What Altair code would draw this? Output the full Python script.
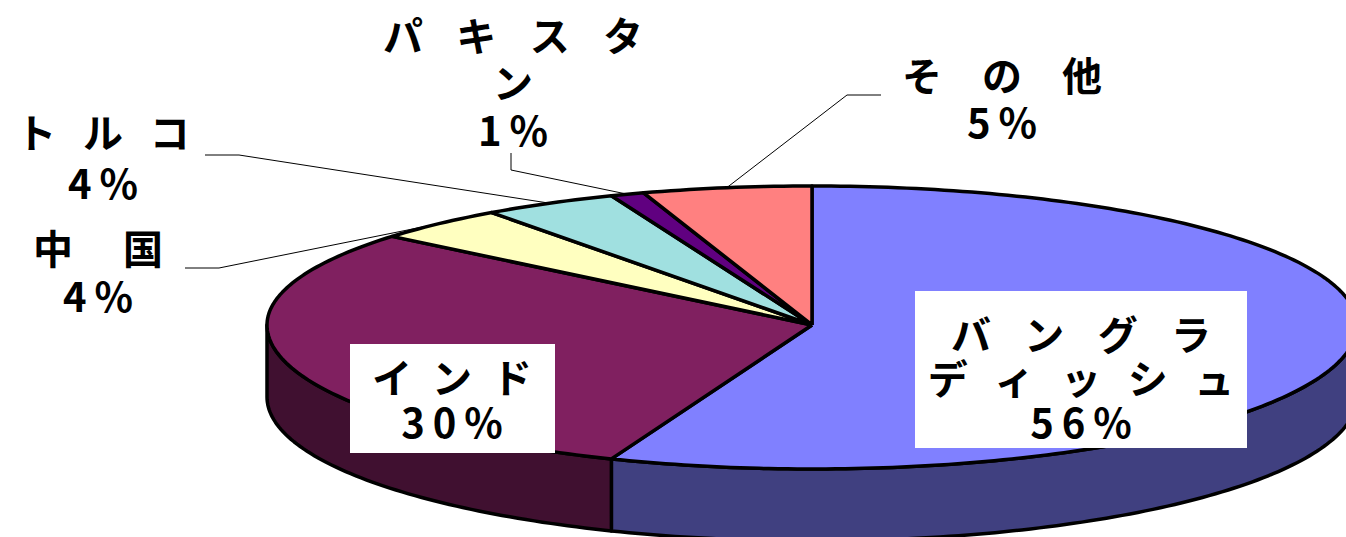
import math
import altair as alt
import pandas as pd

# ---------------- data ----------------
countries = ["バングラディッシュ", "インド", "中国", "トルコ", "パキスタン", "その他"]
shares = [56, 30, 4, 4, 1, 5]
name_lines = [["バングラ", "ディッシュ"], ["インド"], ["中国"], ["トルコ"], ["パキスタ", "ン"], ["その他"]]

# ---------------- styles / layout ----------------
top_colors = ["#8080FF", "#802060", "#FFFFC0", "#A0E0E0", "#600080", "#FF8080"]
side_colors = ["#404080", "#401030", "#808060", "#507070", "#300040", "#804040"]

W, H = 1346, 537
CX, CY = 812, 325          # pie centre on screen
A = 545                    # horizontal radius
B_UP, B_DN = 139, 144      # vertical radius (back / front half, perspective)
DEPTH = 72                 # thickness of the pie

EN, THIRD, QUARTER, SIXTH, EM, THIN = "\u2002", "\u2004", "\u2005", "\u2006", "\u2003", "\u2009"

# label layout: centre x, first-line centre y, line pitch, letter spacing per line,
# optional white box, optional leader (elbow, end)
label_layout = {
    "バングラディッシュ": dict(cx=1081, y0=334, lh=44, seps=[EN + THIRD, EN + SIXTH],
                          box=(915, 291, 1247, 448)),
    "インド": dict(cx=452, y0=377, lh=45, seps=[EN], box=(350, 344, 555, 453)),
    "中国": dict(cx=98, y0=248, lh=48, seps=[EM + QUARTER], leader=[(219, 268), (185, 268)]),
    "トルコ": dict(cx=103, y0=132, lh=51, seps=[EN + SIXTH], leader=[(239, 155), (205, 155)]),
    "パキスタン": dict(cx=513, y0=35, lh=47.5, seps=[EN + THIRD, EN], leader=[(511, 170), (511, 153)]),
    "その他": dict(cx=1002, y0=75, lh=47, seps=[EM], leader=[(847, 95), (881, 95)]),
}

FONT = "Noto Sans CJK JP"
FSIZE = 40


def ell(tdeg, dy=0.0):
    t = math.radians(tdeg)
    s, c = math.sin(t), math.cos(t)
    b = B_UP if c > 0 else B_DN
    return CX + A * s, CY - b * c + dy


def arc(t1, t2, dy=0.0):
    n = max(2, int(abs(t2 - t1)) + 1)
    return [ell(t1 + (t2 - t1) * k / (n - 1), dy) for k in range(n)]


def spaced(s, sep):
    return sep.join(list(s))


# cumulative angles (clockwise from 12 o'clock)
total = sum(shares)
bounds = []
acc = 0.0
for v in shares:
    t1 = acc / total * 360
    acc += v
    t2 = acc / total * 360
    bounds.append((t1, t2))

# top faces
top_rows = []
for name, col, (t1, t2) in zip(countries, top_colors, bounds):
    pts = [(CX, CY)] + arc(t1, t2) + [(CX, CY)]
    for i, (x, y) in enumerate(pts):
        top_rows.append(dict(slice=name, col=col, i=i, x=x, y=y))
top_df = pd.DataFrame(top_rows)

# side walls (front half only: 90..270 deg)
side_rows = []
for name, col, (t1, t2) in zip(countries, side_colors, bounds):
    a1, a2 = max(t1, 90), min(t2, 270)
    if a2 <= a1:
        continue
    pts = arc(a1, a2) + arc(a2, a1, DEPTH)
    pts.append(pts[0])
    for i, (x, y) in enumerate(pts):
        side_rows.append(dict(slice=name, col=col, i=i, x=x, y=y))
side_df = pd.DataFrame(side_rows)

xs = alt.Scale(domain=[0, W], nice=False, zero=False)
ys = alt.Scale(domain=[0, H], nice=False, zero=False, reverse=True)


def X(f="x"):
    return alt.X(f"{f}:Q", scale=xs, axis=None)


def Y(f="y"):
    return alt.Y(f"{f}:Q", scale=ys, axis=None)


sides = alt.Chart(side_df).mark_line(
    filled=True, stroke="black", strokeWidth=3.5, strokeJoin="round"
).encode(
    x=X(), y=Y(), detail="slice:N",
    color=alt.Color("col:N", scale=None),
    order="i:Q",
)

tops = alt.Chart(top_df).mark_line(
    filled=True, stroke="black", strokeWidth=3.5, strokeJoin="round"
).encode(
    x=X(), y=Y(), detail="slice:N",
    color=alt.Color("col:N", scale=None),
    order="i:Q",
)

# labels, boxes, leaders
box_rows, leader_rows = [], []
text_layers = []
for name, v, lines, (t1, t2) in zip(countries, shares, name_lines, bounds):
    lay = label_layout[name]
    parts = [spaced(l, sep) for l, sep in zip(lines, lay["seps"])]
    txt = "\n".join(parts + [spaced(f"{v}%", THIN)])
    if "box" in lay:
        x1, y1, x2, y2 = lay["box"]
        box_rows.append(dict(slice=name, x=x1, y=y1, x2=x2, y2=y2))
    if "leader" in lay:
        mx, my = ell((t1 + t2) / 2)
        pts = [(mx, my)] + lay["leader"]
        for i, (x, y) in enumerate(pts):
            leader_rows.append(dict(slice=name, i=i, x=x, y=y))
    tdf = pd.DataFrame([dict(slice=name, txt=txt, x=lay["cx"], y=lay["y0"] - 0.41 * FSIZE)])
    text_layers.append(
        alt.Chart(tdf).mark_text(
            font=FONT, fontSize=FSIZE, fontWeight="bold", align="center",
            baseline="top", lineBreak="\n", lineHeight=lay["lh"], color="black"
        ).encode(x=X(), y=Y(), text="txt:N")
    )

box_df = pd.DataFrame(box_rows)
leader_df = pd.DataFrame(leader_rows)

boxes = alt.Chart(box_df).mark_rect(color="white").encode(
    x=X(), x2="x2:Q", y=Y(), y2="y2:Q"
)

leaders = alt.Chart(leader_df).mark_line(color="black", strokeWidth=1).encode(
    x=X(), y=Y(), detail="slice:N", order="i:Q"
)

chart = alt.layer(sides, tops, boxes, leaders, *text_layers).properties(
    width=W, height=H, padding=0, autosize=alt.AutoSizeParams(type="none"), background="white"
).configure_view(stroke=None)

chart.save("out.html", embed_options={"renderer": "svg", "actions": False})
